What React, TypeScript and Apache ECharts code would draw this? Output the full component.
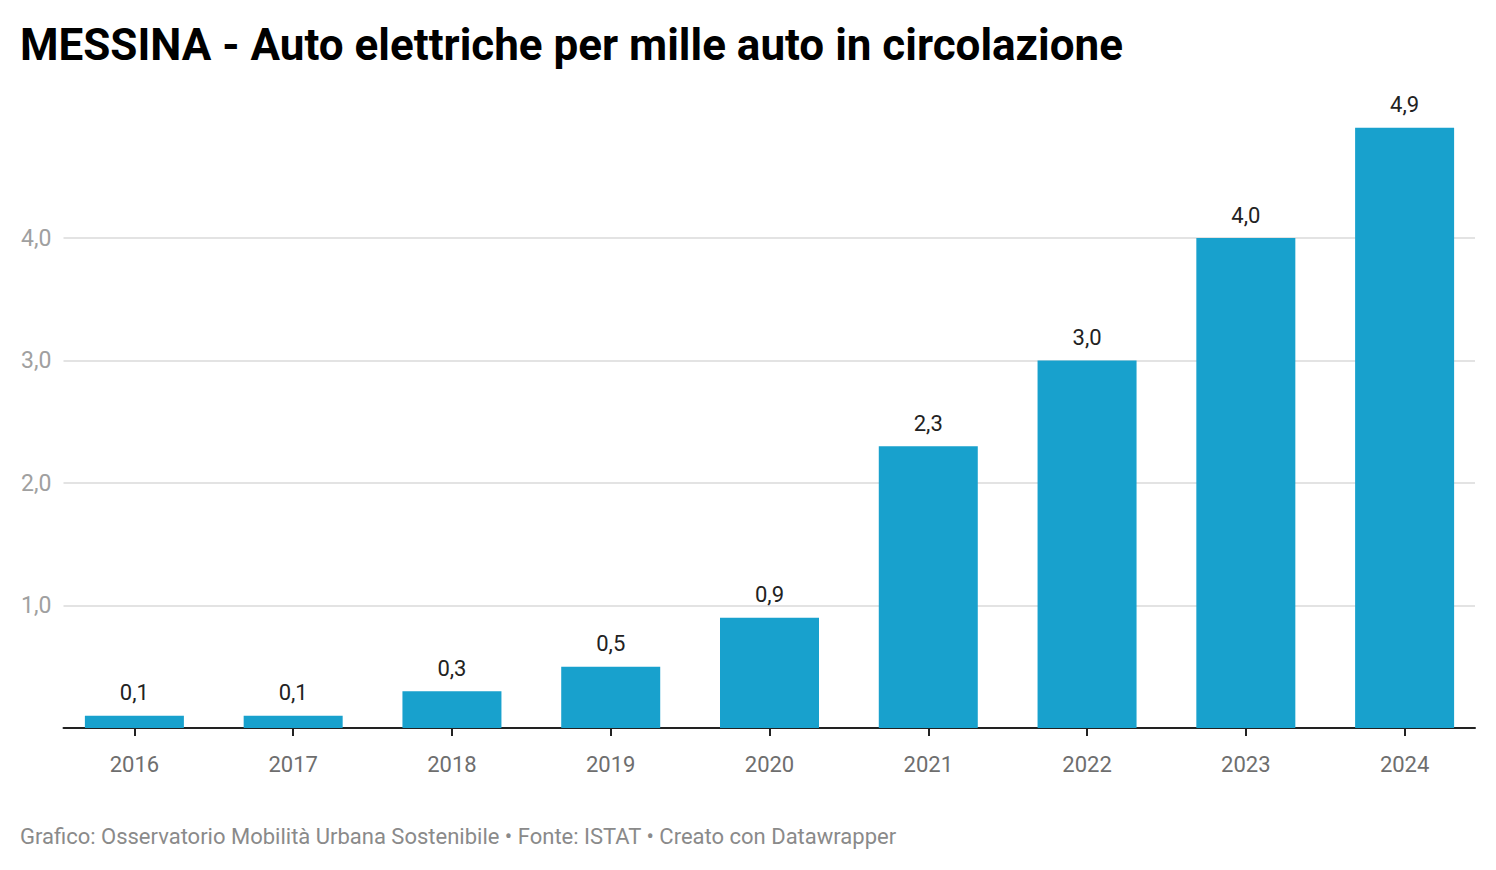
import React, { useEffect, useRef } from 'react';
import * as echarts from 'echarts';

const titleText = 'MESSINA - Auto elettriche per mille auto in circolazione';
const footerText = 'Grafico: Osservatorio Mobilità Urbana Sostenibile • Fonte: ISTAT • Creato con Datawrapper';
const years = ['2016', '2017', '2018', '2019', '2020', '2021', '2022', '2023', '2024'];
const values = [0.1, 0.1, 0.3, 0.5, 0.9, 2.3, 3.0, 4.0, 4.9];
const yTickMax = 4;
const yTickStep = 1;

const fmt = (v: number) => v.toFixed(1).replace('.', ',');

export default function App() {
  const ref = useRef<HTMLDivElement>(null);
  useEffect(() => {
    document.body.style.margin = '0';
    if (!ref.current) return;
    const chart = echarts.init(ref.current, null, { renderer: 'svg' });
    const font = 'Roboto';
    const bottomPx = 142;
    const unit = 122.5;
    chart.setOption({
      animation: false,
      backgroundColor: '#ffffff',
      textStyle: { fontFamily: font },
      title: [
        {
          text: titleText,
          left: 20,
          top: 23,
          padding: 0,
          textStyle: { fontFamily: font, fontSize: 44, fontWeight: 'bold', color: '#000000' },
        },
        {
          text: footerText,
          left: 20,
          top: 825,
          padding: 0,
          textStyle: { fontFamily: font, fontSize: 22, fontWeight: 'normal', color: '#8a8a8a' },
        },
      ],
      grid: [
        { left: 55, right: 12, top: 870 - bottomPx - unit * 5, bottom: bottomPx, containLabel: false },
        { left: 63.5, right: 21, top: 870 - bottomPx - unit * yTickMax, bottom: bottomPx, containLabel: false },
      ],
      xAxis: [
        {
          type: 'category',
          gridIndex: 0,
          data: years,
          axisLine: { show: false },
          axisTick: { show: true, alignWithLabel: true, length: 8, lineStyle: { color: '#222222', width: 2 } },
          axisLabel: { fontFamily: font, fontSize: 22, color: '#6e6e6e', margin: 25 },
          splitLine: { show: false },
        },
        {
          type: 'value',
          gridIndex: 1,
          min: 0,
          max: 1,
          axisLine: { show: true, lineStyle: { color: '#222222', width: 2 } },
          axisTick: { show: false },
          axisLabel: { show: false },
          splitLine: { show: false },
        },
      ],
      yAxis: [
        {
          type: 'value',
          gridIndex: 0,
          min: 0,
          max: 5,
          show: false,
          splitLine: { show: false },
        },
        {
          type: 'value',
          gridIndex: 1,
          min: 0,
          max: yTickMax,
          interval: yTickStep,
          axisLine: { show: false },
          axisTick: { show: false },
          axisLabel: {
            fontFamily: font,
            fontSize: 23,
            color: '#a0a0a0',
            margin: 12,
            formatter: (v: number) => (v === 0 ? '' : fmt(v)),
          },
          splitLine: { show: true, lineStyle: { color: '#e3e3e3', width: 2 } },
        },
      ],
      series: [
        {
          type: 'bar',
          xAxisIndex: 0,
          yAxisIndex: 0,
          data: values,
          barWidth: 99,
          z: 5,
          itemStyle: { color: '#18a1cd' },
          label: {
            show: true,
            position: 'top',
            distance: 12,
            fontFamily: font,
            fontSize: 22,
            color: '#222222',
            formatter: (p: any) => fmt(p.value),
          },
        },
      ],
    });
    return () => chart.dispose();
  }, []);
  return <div ref={ref} style={{ width: 1496, height: 870 }} />;
}
